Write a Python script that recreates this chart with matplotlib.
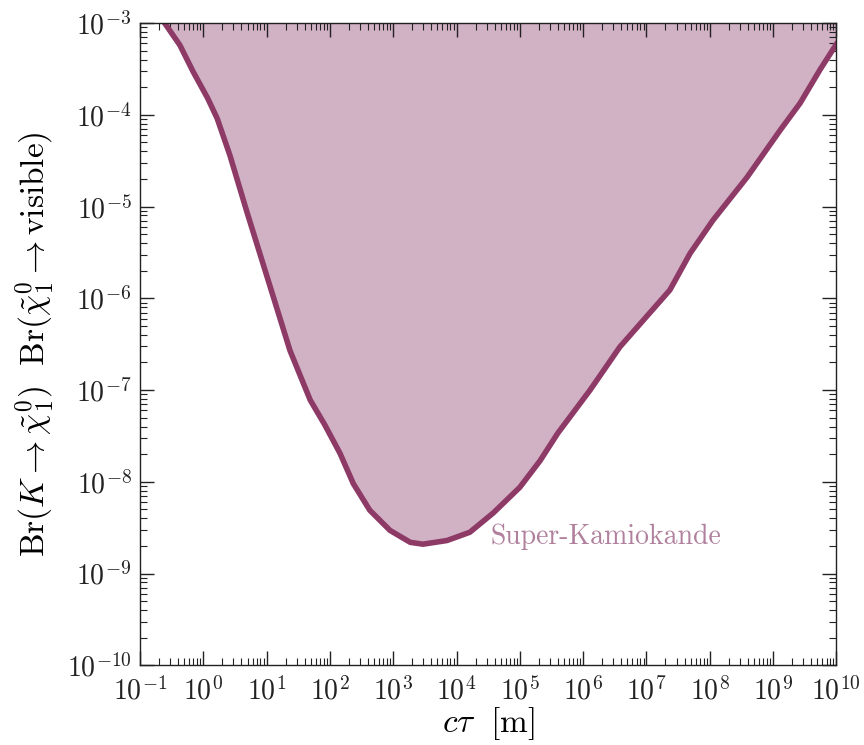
import numpy as np
import matplotlib
matplotlib.use("Agg")
import matplotlib.pyplot as plt
from matplotlib.ticker import LogLocator, NullFormatter

plt.rcParams["font.family"] = "serif"
plt.rcParams["font.serif"] = ["cmr10", "DejaVu Serif"]
plt.rcParams["mathtext.fontset"] = "cm"
plt.rcParams["axes.formatter.use_mathtext"] = True

# Super-Kamiokande exclusion boundary (log10 values)
log_ctau = [-0.61, -0.37, -0.16, 0.07, 0.22, 0.42, 0.69, 1.01, 1.37, 1.69,
            1.92, 2.16, 2.37, 2.63, 2.95, 3.27, 3.47, 3.85, 4.21, 4.58,
            5.0, 5.32, 5.60, 6.11, 6.58, 7.37, 7.69, 8.05, 8.59, 9.11,
            9.43, 9.74, 10.0]
log_br = [-3.0, -3.24, -3.53, -3.82, -4.04, -4.44, -5.06, -5.77, -6.57, -7.11,
          -7.38, -7.69, -8.02, -8.31, -8.53, -8.66, -8.68, -8.64, -8.55, -8.34,
          -8.06, -7.77, -7.47, -7.00, -6.53, -5.91, -5.51, -5.15, -4.68, -4.17,
          -3.87, -3.51, -3.23]

ctau = 10.0 ** np.array(log_ctau)
br = 10.0 ** np.array(log_br)

fill_color = "#d1b1c4"
line_color = "#8e3a66"

fig = plt.figure(figsize=(8.64, 7.45), dpi=100)
ax = fig.add_axes([0.162, 0.107, 0.806, 0.862])

ax.fill_between(ctau, br, 1e-3, color=fill_color, lw=0)
ax.plot(ctau, br, color=line_color, lw=4, solid_joinstyle="round")

ax.text(10 ** 4.53, 10 ** -8.6, "Super-Kamiokande", color="#b0809c",
        fontsize=20, va="center", ha="left")

ax.set_xscale("log")
ax.set_yscale("log")
ax.set_xlim(1e-1, 1e10)
ax.set_ylim(1e-10, 1e-3)

ax.xaxis.set_major_locator(LogLocator(base=10, numticks=20))
ax.yaxis.set_major_locator(LogLocator(base=10, numticks=20))
ax.xaxis.set_minor_locator(LogLocator(base=10, subs=np.arange(2, 10), numticks=20))
ax.yaxis.set_minor_locator(LogLocator(base=10, subs=np.arange(2, 10), numticks=20))
ax.xaxis.set_minor_formatter(NullFormatter())
ax.yaxis.set_minor_formatter(NullFormatter())

ax.tick_params(which="both", direction="in", top=True, right=True,
               labelsize=20, color="#222222", labelcolor="#222222")
ax.tick_params(which="major", length=10, width=1)
ax.tick_params(which="minor", length=5, width=0.8)
ax.tick_params(axis="x", pad=8)
ax.tick_params(axis="y", pad=6)

for s in ax.spines.values():
    s.set_linewidth(1.0)
    s.set_color("#222222")

ax.set_xlabel(r"$c\tau\ \ [\mathrm{m}]$", fontsize=24)
ax.set_ylabel(r"$\mathrm{Br}(K\rightarrow\tilde{\chi}_1^0)\ \ \mathrm{Br}(\tilde{\chi}_1^0\rightarrow\mathrm{visible})$",
              fontsize=24)
ax.xaxis.set_label_coords(0.5, -0.062)
ax.yaxis.set_label_coords(-0.12, 0.5)

fig.savefig("out.png", dpi=100)
